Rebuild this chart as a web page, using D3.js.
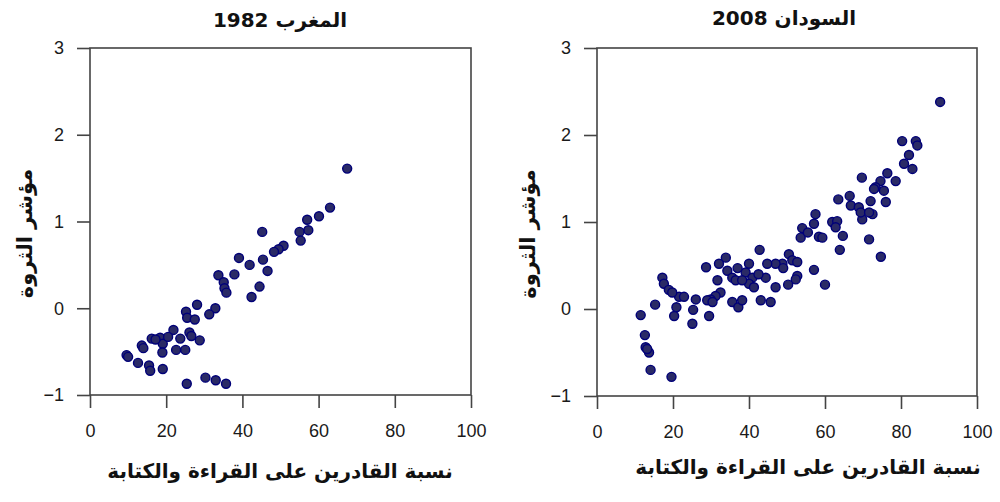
<!DOCTYPE html>
<html>
<head>
<meta charset="utf-8">
<script src="https://cdn.jsdelivr.net/npm/d3@7"></script>
<style>
  body { margin: 0; background: #fff; }
  .tick-label { font-family: "Liberation Sans", Arial, sans-serif; font-size: 18px; fill: #1a1a1a; }
  .arabic { font-family: "DejaVu Sans", sans-serif; font-weight: bold; fill: #111; }
</style>
</head>
<body>
<div id="chart"></div>
<script>
var xTicks = [0, 20, 40, 60, 80, 100];
var yTicks = [-1, 0, 1, 2, 3];
var titles = ["المغرب 1982", "السودان 2008"];
var xLabel = "نسبة القادرين على القراءة والكتابة";
var yLabel = "مؤشر الثروة";

// Morocco 1982: literacy % and wealth index
var moroccoLiteracy = [67.5, 63.0, 60.1, 57.0, 57.3, 55.0, 55.3, 45.2, 50.8, 49.5, 48.3, 39.1, 41.9, 45.4, 46.6,
    37.9, 33.7, 35.1, 35.3, 35.8, 44.5, 42.4, 28.1, 32.9, 31.3, 25.2, 25.5, 27.5, 21.9, 26.1, 26.6, 28.8, 23.7,
    16.2, 18.4, 19.1, 19.0, 13.6, 14.0, 22.6, 25.0, 9.6, 10.0, 12.6, 15.5, 15.8, 19.1, 25.4, 30.3, 33.0, 35.7,
    20.5, 17.2];
var moroccoWealth = [1.61, 1.16, 1.06, 1.02, 0.90, 0.88, 0.78, 0.88, 0.72, 0.68, 0.65, 0.58, 0.50, 0.56, 0.43,
    0.39, 0.38, 0.30, 0.23, 0.18, 0.25, 0.13, 0.04, 0.00, -0.07, -0.04, -0.11, -0.13, -0.25, -0.28, -0.32, -0.37, -0.35,
    -0.35, -0.34, -0.41, -0.51, -0.43, -0.46, -0.48, -0.48, -0.54, -0.56, -0.63, -0.66, -0.72, -0.70, -0.87, -0.80, -0.83, -0.87,
    -0.33, -0.36];

// Sudan 2008
var sudanLiteracy = [90.3, 80.3, 83.9, 84.3, 82.1, 80.8, 83.0, 69.7, 76.4, 74.6, 73.3, 75.5, 78.6, 72.9,
    63.5, 66.5, 66.8, 72.0, 68.9, 69.8, 72.5, 69.4, 71.6, 76.0, 71.6, 74.7,
    57.5, 57.1, 54.0, 53.6, 58.4, 59.3, 61.9, 63.2, 62.8, 64.7, 63.9, 57.1, 60.0, 55.5,
    42.8, 50.5, 51.4, 52.7, 48.8, 47.0, 44.8, 52.7, 52.3, 50.3, 47.0, 43.1, 45.7, 44.4, 49.0,
    33.9, 32.1, 28.7, 34.3, 35.6, 36.5, 40.0, 39.1, 40.9, 40.0, 41.3, 38.2, 31.7, 37.0, 42.5,
    32.5, 31.2, 29.9, 29.0, 30.4, 35.6, 37.2, 38.2, 26.0, 21.6, 22.9, 20.9,
    17.2, 17.6, 18.9, 19.8, 15.3, 25.3, 29.5, 20.3, 25.1,
    11.5, 12.6, 12.8, 13.7, 13.2, 14.1, 19.6];
var sudanWealth = [2.38, 1.93, 1.93, 1.88, 1.77, 1.67, 1.61, 1.51, 1.56, 1.47, 1.40, 1.36, 1.47, 1.38,
    1.26, 1.30, 1.19, 1.24, 1.17, 1.03, 1.09, 1.11, 1.11, 1.23, 0.80, 0.60,
    1.09, 0.98, 0.93, 0.82, 0.83, 0.82, 1.00, 1.01, 0.94, 0.84, 0.68, 0.45, 0.28, 0.88,
    0.68, 0.63, 0.56, 0.54, 0.52, 0.52, 0.52, 0.38, 0.34, 0.28, 0.25, 0.10, 0.08, 0.36, 0.47,
    0.59, 0.52, 0.48, 0.44, 0.36, 0.33, 0.52, 0.42, 0.36, 0.29, 0.25, 0.33, 0.33, 0.47, 0.40,
    0.19, 0.15, 0.11, 0.10, 0.08, 0.08, 0.02, 0.10, 0.11, 0.14, 0.14, 0.02,
    0.36, 0.29, 0.22, 0.19, 0.05, -0.01, -0.08, -0.08, -0.17,
    -0.07, -0.30, -0.44, -0.50, -0.46, -0.70, -0.78];

var svg = d3.select("#chart").append("svg")
    .attr("width", 1000)
    .attr("height", 502);

var panels = [
    { title: titles[0], xs: moroccoLiteracy, ys: moroccoWealth, left: 90, right: 471, top: 48, bottom: 395,
      titleX: 280, titleY: 27, xLabelX: 280, xLabelY: 478, yLabelX: 32 },
    { title: titles[1], xs: sudanLiteracy, ys: sudanWealth, left: 597, right: 977, top: 48, bottom: 396,
      titleX: 784, titleY: 25, xLabelX: 808, xLabelY: 474, yLabelX: 535 }
];

panels.forEach(function(p) {
    var x = d3.scaleLinear().domain([0, 100]).range([p.left, p.right]);
    var y = d3.scaleLinear().domain([-1, 3]).range([p.bottom, p.top]);
    var g = svg.append("g");

    // frame
    g.append("rect")
        .attr("x", p.left).attr("y", p.top)
        .attr("width", p.right - p.left).attr("height", p.bottom - p.top)
        .attr("fill", "none").attr("stroke", "#444").attr("stroke-width", 1.6);

    var xAxis = g.append("g")
        .attr("transform", "translate(0," + p.bottom + ")")
        .call(d3.axisBottom(x).tickValues(xTicks).tickSize(13).tickPadding(16).tickFormat(d3.format("d")));
    var yAxis = g.append("g")
        .attr("transform", "translate(" + p.left + ",0)")
        .call(d3.axisLeft(y).tickValues(yTicks).tickSize(13).tickPadding(13)
            .tickFormat(function(d) { return d < 0 ? "\u2212" + Math.abs(d) : d; }));

    [xAxis, yAxis].forEach(function(a) {
        a.select(".domain").remove();
        a.selectAll("line").attr("stroke", "#444").attr("stroke-width", 1.6);
        a.selectAll("text").attr("class", "tick-label");
    });

    g.selectAll("circle")
        .data(d3.range(p.xs.length))
        .enter().append("circle")
            .attr("cx", function(i) { return x(p.xs[i]); })
            .attr("cy", function(i) { return y(p.ys[i]); })
            .attr("r", 4.5)
            .attr("fill", "#2a2a66")
            .attr("stroke", "#000078")
            .attr("stroke-width", 1.4);

    g.append("text")
        .attr("class", "arabic")
        .attr("x", p.titleX).attr("y", p.titleY)
        .attr("direction", "rtl")
        .style("text-anchor", "middle")
        .style("font-size", "20px")
        .text(p.title);

    g.append("text")
        .attr("class", "arabic")
        .attr("x", p.xLabelX).attr("y", p.xLabelY)
        .attr("direction", "rtl")
        .style("text-anchor", "middle")
        .style("font-size", "20px")
        .text(xLabel);

    g.append("text")
        .attr("class", "arabic")
        .attr("direction", "rtl")
        .attr("transform", "translate(" + p.yLabelX + "," + ((p.top + p.bottom) / 2 + 12) + ") rotate(-90)")
        .style("text-anchor", "middle")
        .style("font-size", "21px")
        .text(yLabel);
});
</script>
</body>
</html>
